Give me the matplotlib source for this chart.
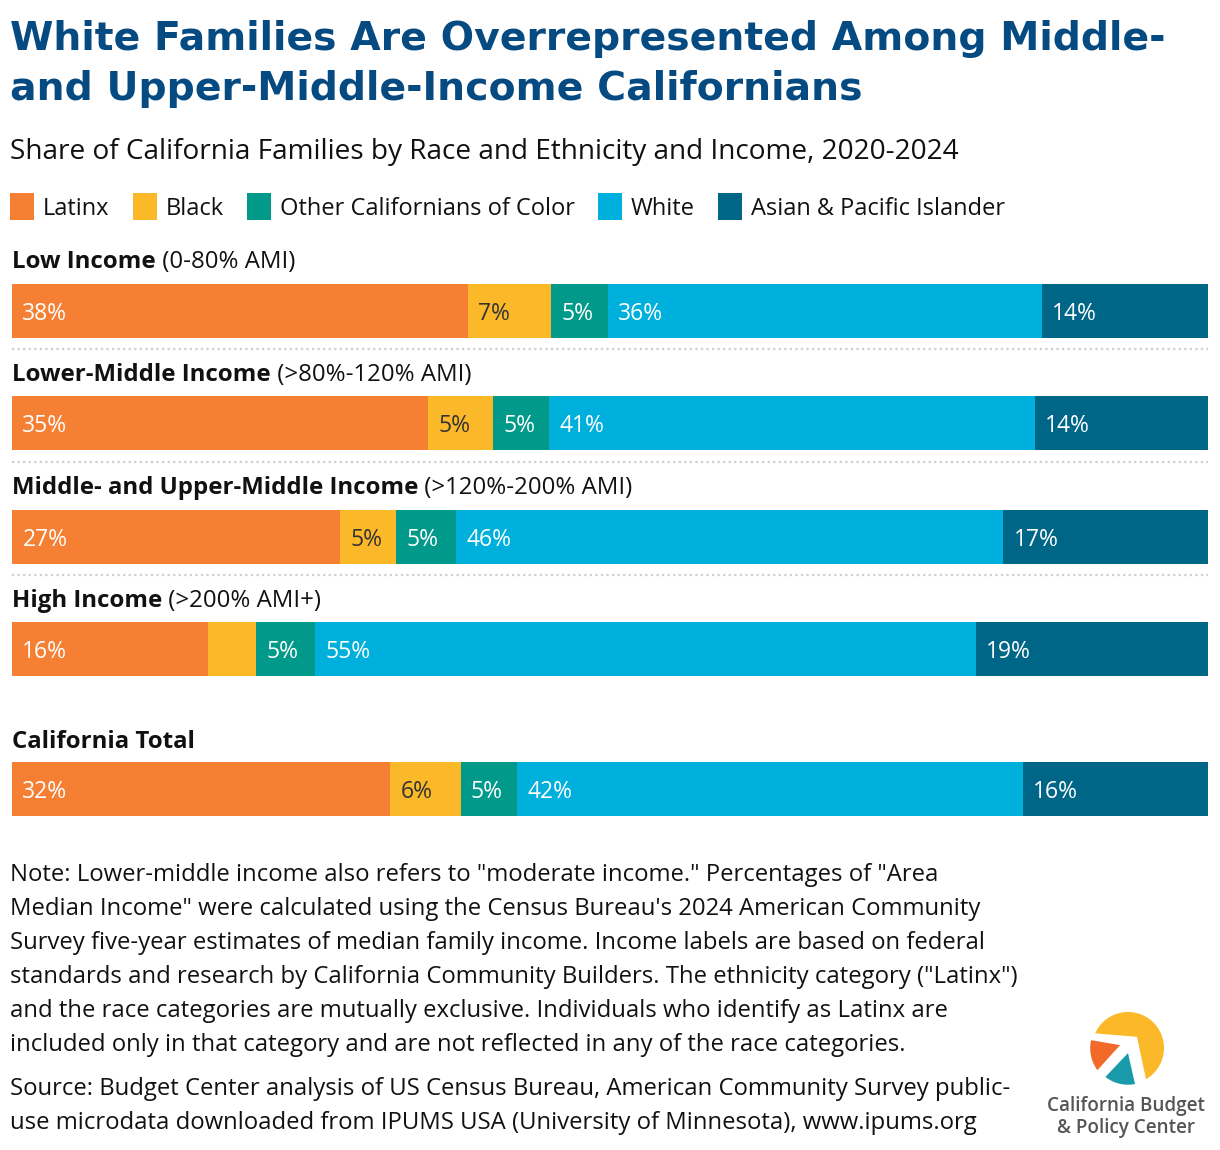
import matplotlib
matplotlib.use("Agg")
import matplotlib.pyplot as plt
from matplotlib.patches import Rectangle, Polygon
import numpy as np

# ---------------- data ----------------
groups = ["Latinx", "Black", "Other Californians of Color", "White", "Asian & Pacific Islander"]
colors = ["#F58034", "#FBB829", "#00998A", "#00B0DC", "#006688"]
label_colors = ["white", "#333333", "white", "white", "white"]

row_bold = ["Low Income", "Lower-Middle Income", "Middle- and Upper-Middle Income",
            "High Income", "California Total"]
row_regular = [" (0-80% AMI)", " (>80%-120% AMI)", " (>120%-200% AMI)", " (>200% AMI+)", ""]

low_income = [38.1, 7.0, 4.7, 36.3, 13.9]
lower_middle = [34.8, 5.4, 4.7, 40.6, 14.5]
middle_upper = [27.4, 4.7, 5.0, 45.8, 17.1]
high_income = [16.4, 4.0, 4.9, 55.3, 19.4]
ca_total = [31.6, 5.9, 4.7, 42.3, 15.5]
rows = [low_income, lower_middle, middle_upper, high_income, ca_total]

title = "White Families Are Overrepresented Among Middle-\nand Upper-Middle-Income Californians"
subtitle = "Share of California Families by Race and Ethnicity and Income, 2020-2024"
note_lines = [
    'Note: Lower-middle income also refers to "moderate income." Percentages of "Area',
    'Median Income" were calculated using the Census Bureau\'s 2024 American Community',
    'Survey five-year estimates of median family income. Income labels are based on federal',
    'standards and research by California Community Builders. The ethnicity category ("Latinx")',
    'and the race categories are mutually exclusive. Individuals who identify as Latinx are',
    'included only in that category and are not reflected in any of the race categories.',
]
source_lines = [
    'Source: Budget Center analysis of US Census Bureau, American Community Survey public-',
    'use microdata downloaded from IPUMS USA (University of Minnesota), www.ipums.org',
]

# ---------------- layout ----------------
W, H = 1220, 1150
fig = plt.figure(figsize=(W / 100, H / 100), dpi=100)
fig.patch.set_facecolor("white")

ov = fig.add_axes([0, 0, 1, 1])
ov.set_xlim(0, W)
ov.set_ylim(H, 0)
ov.axis("off")

FONT = "Open Sans"
renderer = fig.canvas.get_renderer()

def px_width(t):
    return t.get_window_extent(renderer=renderer).width

# Title (fit to target width)
t_lines = title.split("\n")
tt = ov.text(10, 50, t_lines[0], fontsize=30, fontweight="bold", family="DejaVu Sans",
             color="#064A82", va="baseline", ha="left")
fs = 30 * 1155 / px_width(tt)
tt.set_fontsize(fs)
ov.text(10, 100, t_lines[1], fontsize=fs, fontweight="bold", family="DejaVu Sans",
        color="#064A82", va="baseline", ha="left")

# Subtitle
ov.text(10, 159, subtitle, fontsize=20.2, family=FONT, color="#111111", va="baseline")

# Legend
lx = 10
for g, c in zip(groups, colors):
    ov.add_patch(Rectangle((lx, 193), 24, 27, facecolor=c, edgecolor="none"))
    t = ov.text(lx + 33, 215, g, fontsize=17, family=FONT, color="#111111", va="baseline")
    lx = lx + 33 + px_width(t) + 23

# Bars
bar_centers = [311, 423, 537, 649, 789]
label_baselines = [268, 381, 494, 607, 748]
bar_h = 54

bx = fig.add_axes([12 / W, 0, 1196 / W, 1])
bx.set_xlim(0, 100)
bx.set_ylim(H, 0)
bx.axis("off")

for ri, vals in enumerate(rows):
    left = 0
    for gi, v in enumerate(vals):
        bx.barh(bar_centers[ri], v, left=left, height=bar_h, color=colors[gi], edgecolor="none")
        if v >= 4.5:
            bx.annotate(f"{round(v):.0f}%", xy=(left, bar_centers[ri]), xytext=(7.5, 0),
                        textcoords="offset points", va="center_baseline", ha="left",
                        fontsize=16.5, family=FONT, color=label_colors[gi])
        left += v
    tb = ov.text(12, label_baselines[ri], row_bold[ri], fontsize=17.3, fontweight="bold",
                 family=FONT, color="#111111", va="baseline")
    if row_regular[ri]:
        x2 = 12 + px_width(tb)
        ov.text(x2, label_baselines[ri], row_regular[ri], fontsize=17.3, family=FONT,
                color="#111111", va="baseline")

# dotted separators
for y in [349, 462, 575]:
    ov.plot([12, 1208], [y, y], color="#cfcfcf", lw=1.6, linestyle=(0, (1, 1.5)))

# Note and source
y0 = 881
for i, line in enumerate(note_lines):
    ov.text(10, y0 + 34 * i, line, fontsize=17.2, family=FONT, color="#111111", va="baseline")
for i, line in enumerate(source_lines):
    ov.text(10, 1095 + 34 * i, line, fontsize=17.2, family=FONT, color="#111111", va="baseline")

# Logo
cx, cy, r = 1128, 1048, 36

def pt(a, rr=1.0):
    a = np.deg2rad(a)
    return (cx + r * rr * np.cos(a), cy - r * rr * np.sin(a))

def to_px(x, y):
    return (cx + r * x, cy - r * y)

angs = np.linspace(156, -60, 80)
ypts = [to_px(0.25, 0.31)] + [pt(a) for a in angs]
ov.add_patch(Polygon(ypts, closed=True, facecolor="#FBB829", edgecolor="none"))
angs = np.linspace(168, 216, 40)
opts = [to_px(-0.22, 0.08)] + [pt(a, 1.05) for a in angs]
ov.add_patch(Polygon(opts, closed=True, facecolor="#F26A2A", edgecolor="none"))
angs = np.linspace(232, 281, 40)
tpts = [to_px(0.0, -0.14)] + [pt(a, 1.02) for a in angs]
ov.add_patch(Polygon(tpts, closed=True, facecolor="#1A9BAA", edgecolor="none"))

ov.text(1126, 1111, "California Budget", fontsize=13.6, family=FONT, color="#555555",
        ha="center", va="baseline", fontweight="semibold")
ov.text(1126, 1133, "& Policy Center", fontsize=13.6, family=FONT, color="#555555",
        ha="center", va="baseline", fontweight="semibold")

fig.savefig("out.png", dpi=100, facecolor="white")
